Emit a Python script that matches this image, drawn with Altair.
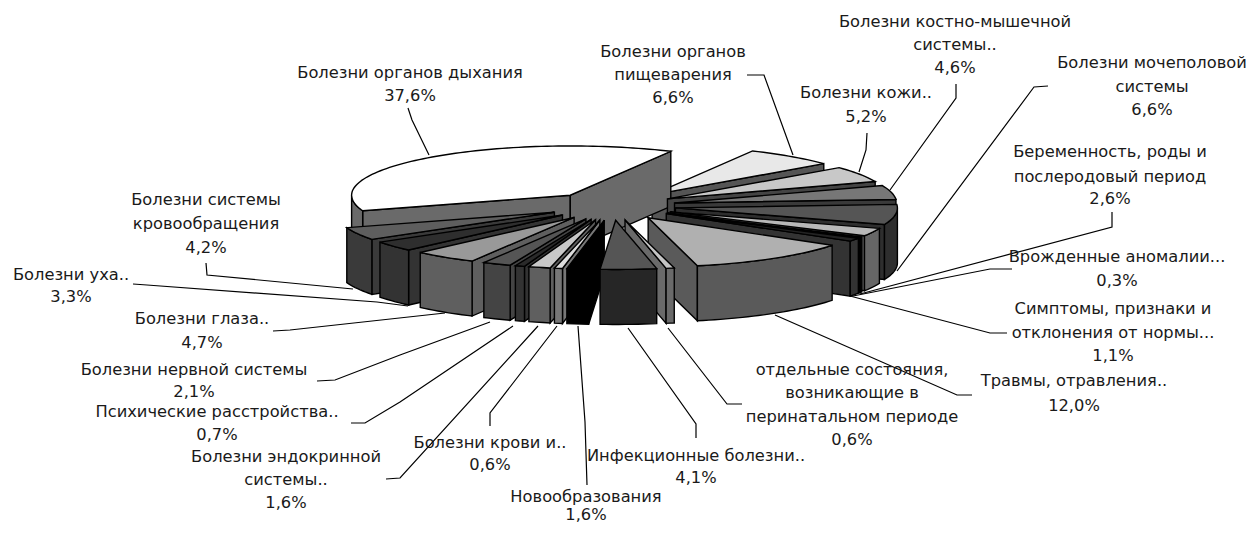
import math
import altair as alt

names = ["Болезни органов дыхания", "Болезни органов пищеварения", "Болезни кожи..", "Болезни костно-мышечной системы..",
         "Болезни мочеполовой системы", "Беременность, роды и послеродовый период", "Врожденные аномалии...",
         "Симптомы, признаки и отклонения от нормы...", "Травмы, отравления..", "отдельные состояния, возникающие в перинатальном периоде",
         "Инфекционные болезни..", "Новообразования", "Болезни крови и..", "Болезни эндокринной системы..",
         "Психические расстройства..", "Болезни нервной системы", "Болезни глаза..", "Болезни уха..", "Болезни системы кровообращения"]
values = [37.6, 6.6, 5.2, 4.6, 6.6, 2.6, 0.3, 1.1, 12.0, 0.6, 4.1, 1.6, 0.6, 1.6, 0.7, 2.1, 4.7, 3.3, 4.2]
top_colors = ["#ffffff", "#e8e8e8", "#c8c8c8", "#777777", "#555555", "#b8b8b8", "#000000", "#222222", "#b0b0b0", "#c4c4c4",
              "#555555", "#000000", "#dddddd", "#c8c8c8", "#2a2a2a", "#555555", "#999999", "#2e2e2e", "#5e5e5e"]
wall_colors = ["#6a6a6a", "#555555", "#444444", "#3a3a3a", "#2e2e2e", "#666666", "#000000", "#333333", "#5a5a5a", "#6a6a6a",
               "#262626", "#000000", "#777777", "#5f5f5f", "#333333", "#444444", "#5f5f5f", "#333333", "#3a3a3a"]

# label layout: text lines, centre x, y of each line (page pixels)
labels = [
    (["Болезни органов дыхания", "37,6%"], 410, [73, 96]),
    (["Болезни органов", "пищеварения", "6,6%"], 673, [52, 75, 98]),
    (["Болезни кожи..", "5,2%"], 866, [93, 117]),
    (["Болезни костно-мышечной", "системы..", "4,6%"], 955, [22, 45, 68]),
    (["Болезни мочеполовой", "системы", "6,6%"], 1152, [63, 87, 110]),
    (["Беременность, роды и", "послеродовый период", "2,6%"], 1110, [152, 177, 199]),
    (["Врожденные аномалии...", "0,3%"], 1117, [257, 281]),
    (["Симптомы, признаки и", "отклонения от нормы...", "1,1%"], 1113, [309, 333, 356]),
    (["Травмы, отравления..", "12,0%"], 1074, [381, 406]),
    (["отдельные состояния,", "возникающие в", "перинатальном периоде", "0,6%"], 852, [370, 393, 417, 440]),
    (["Инфекционные болезни..", "4,1%"], 696, [456, 478]),
    (["Новообразования", "1,6%"], 586, [497, 515]),
    (["Болезни крови и..", "0,6%"], 490, [443, 465]),
    (["Болезни эндокринной", "системы..", "1,6%"], 286, [457, 480, 503]),
    (["Психические расстройства..", "0,7%"], 217, [412, 435]),
    (["Болезни нервной системы", "2,1%"], 194, [370, 392]),
    (["Болезни глаза..", "4,7%"], 202, [319, 343]),
    (["Болезни уха..", "3,3%"], 71, [275, 297]),
    (["Болезни системы", "кровообращения", "4,2%"], 206, [200, 224, 248]),
]
# leader lines (page pixels)
leaders = [
    [(408, 108), (412, 120), (429, 155)],
    [(747, 75), (764, 75), (793, 155)],
    [(867, 133), (866, 150), (859, 172)],
    [(956, 84), (956, 98), (890, 190)],
    [(1048, 86), (1034, 87), (897, 271)],
    [(1112, 212), (1112, 227), (860, 294)],
    [(1012, 269), (990, 269), (853, 296)],
    [(1007, 333), (990, 333), (850, 296)],
    [(972, 395), (957, 395), (775, 315)],
    [(742, 404), (727, 404), (668, 328)],
    [(696, 438), (696, 424), (628, 328)],
    [(587, 485), (585, 422), (578, 326)],
    [(490, 426), (490, 413), (557, 326)],
    [(386, 479), (400, 478), (538, 326)],
    [(351, 423), (365, 423), (400, 402), (513, 326)],
    [(317, 381), (335, 380), (400, 355), (490, 322)],
    [(273, 331), (290, 330), (445, 313)],
    [(133, 284), (147, 285), (377, 302), (408, 306)],
    [(206, 263), (207, 275), (353, 289)],
]

W, H, M = 1238, 518, 8
CX, CY, R, TILT, EXPLODE, DEPTH, START = 612, 206, 222, 0.222, 64, 55, -108.3
LEFT_SQUEEZE = 0.985


def pt(x, y):
    return [round(x - M, 2), round(y - M, 2)]


def feature(ring, fill):
    ring = ring + [ring[0]]
    return {"type": "Feature", "geometry": {"type": "Polygon", "coordinates": [ring]}, "properties": {"fill": fill}}


total = sum(values)
slices = []
a = START
for v, top, wall in zip(values, top_colors, wall_colors):
    span = v / total * 360
    slices.append((a, a + span, top, wall))
    a += span


def slice_features(a1, a2, top, wall):
    mid = math.radians((a1 + a2) / 2)
    tx = CX + EXPLODE * math.sin(mid)
    ty = CY - EXPLODE * TILT * math.cos(mid)

    def rim(deg):
        r = math.radians(deg)
        s = math.sin(r)
        return tx + R * s * (LEFT_SQUEEZE if s < 0 else 1), ty - R * TILT * math.cos(r)

    out = []
    for deg, visible in ((a1, math.sin(math.radians(a1)) < 0), (a2, math.sin(math.radians(a2)) > 0)):
        if visible:
            x, y = rim(deg)
            out.append(feature([pt(tx, ty), pt(x, y), pt(x, y + DEPTH), pt(tx, ty + DEPTH)], wall))
    n = max(2, int((a2 - a1) / 1.5))
    degs = [a1 + (a2 - a1) * i / n for i in range(n + 1)]
    front = [d for d in degs if math.cos(math.radians(d)) <= 0.0]
    if len(front) >= 2:
        up = [pt(*rim(d)) for d in front]
        down = [pt(rim(d)[0], rim(d)[1] + DEPTH) for d in reversed(front)]
        out.append(feature(up + down, wall))
    out.append(feature([pt(tx, ty)] + [pt(*rim(d)) for d in degs], top))
    return out


order = sorted(slices, key=lambda s: -math.cos(math.radians((s[0] + s[1]) / 2)))
features = []
for s in order:
    features.extend(slice_features(*s))

# invisible frame pins the identity projection to page pixels
frame = {"type": "Feature", "geometry": {"type": "Polygon", "coordinates": [[[0, 0], [W, 0], [W, H], [0, H], [0, 0]]]},
         "properties": {"fill": "#ffffff"}}

text_rows = []
for lines, cx, ys in labels:
    for line, y in zip(lines, ys):
        text_rows.append({"t": line, "lon": cx - M, "lat": y - M})
line_rows = []
for i, path in enumerate(leaders):
    for j, (x, y) in enumerate(path):
        line_rows.append({"id": i, "o": j, "lon": x - M, "lat": y - M})

proj = dict(type="identity")

base = alt.Chart(alt.Data(values=[frame])).mark_geoshape(fill="#ffffff", stroke=None).project(**proj)
lead = alt.Chart(alt.Data(values=line_rows)).mark_line(color="#000000", strokeWidth=1.2).encode(
    longitude="lon:Q", latitude="lat:Q", detail="id:N", order="o:Q").project(**proj)
pie = alt.Chart(alt.Data(values=features)).mark_geoshape(stroke="#000000", strokeWidth=1.4, strokeJoin="miter").encode(
    fill=alt.Fill("properties.fill:N", scale=None)).project(**proj)
text = alt.Chart(alt.Data(values=text_rows)).mark_text(font="DejaVu Sans", fontSize=16.3, color="#1a1a1a", align="center",
                                                       baseline="middle").encode(
    longitude="lon:Q", latitude="lat:Q", text="t:N").project(**proj)

chart = alt.layer(base, lead, pie, text).properties(
    width=W, height=H, padding=0, autosize=alt.AutoSizeParams(type="none")
).configure_view(stroke=None)
chart.save("out.html", embed_options={"renderer": "svg", "actions": False})
